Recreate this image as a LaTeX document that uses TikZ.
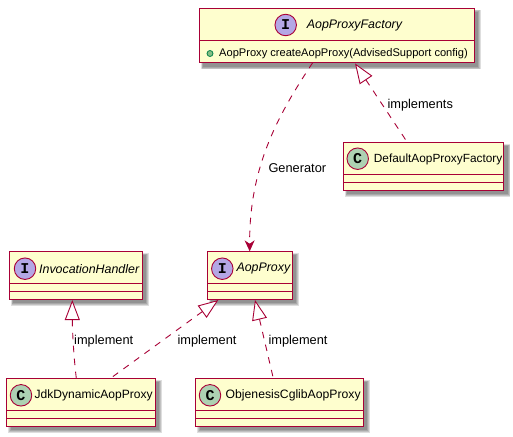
\documentclass[tikz,border=0pt]{standalone}
\usepackage{fontspec}
\setmainfont{Liberation Sans}
\newfontfamily\badgefont{Liberation Mono}
\usetikzlibrary{arrows.meta,calc}
\definecolor{umlred}{HTML}{A80036}
\definecolor{umlfill}{HTML}{FEFECE}
\definecolor{ifacebadge}{HTML}{B4A7E5}
\definecolor{classbadge}{HTML}{ADD1B2}
\definecolor{pubfill}{HTML}{84BE84}
\definecolor{publine}{HTML}{038048}
\tikzset{
  umlbox/.style={draw=umlred,fill=umlfill,line width=1.5pt,rectangle,inner sep=0pt,outer sep=0pt},
  sepline/.style={draw=umlred,line width=1.5pt},
  badge/.style={circle,draw=umlred,line width=.9pt,minimum size=21.5pt,inner sep=0pt,outer sep=0pt,font=\badgefont\bfseries\fontsize{15}{15}\selectfont,text=black},
  ifacemark/.style={badge,fill=ifacebadge},
  classmark/.style={badge,fill=classbadge},
  titletext/.style={anchor=west,inner sep=0pt,font=\fontsize{11.85}{14}\selectfont},
  ititle/.style={anchor=west,inner sep=0pt,font=\fontsize{12.4}{15}\selectfont\itshape},
  edgelabel/.style={anchor=west,inner sep=0pt,font=\fontsize{12.8}{15}\selectfont},
  deplink/.style={draw=umlred,line width=.9pt,dash pattern=on 6.5pt off 6.5pt},
  realize/.style={deplink,{Triangle[open,length=20pt,width=15pt,fill=white]}-,dash pattern=on 6.5pt off 6.5pt},
  depend/.style={deplink,-{Stealth[inset=3.5pt,length=11pt,width=10pt,fill=umlred]}},
}
\newcommand{\umlframe}[5]{%
  \foreach \g in {3,2,1,0}{
    \fill[black,opacity=.13] ({#2+4-\g*.9},{#3+4-\g*.9}) rectangle ({#4+4+\g*.9},{#5+4+\g*.9});
  }
  \node[umlbox,minimum width={(#4-#2)*1pt},minimum height={(#5-#3)*1pt}] (#1) at ({(#2+#4)/2},{(#3+#5)/2}) {};
}
\newcommand{\umlsep}[2]{\draw[sepline] (#1.west |- 0,#2) -- (#1.east |- 0,#2);}
\begin{document}
\begin{tikzpicture}[x=1pt,y=-1pt]
\useasboundingbox (0,0) rectangle (513,436);
\fill[white] (0,0) rectangle (513,436);

% Boxes
\umlframe{factory}{199.3}{8.3}{474.3}{62.7}
\umlsep{factory}{40.7}
\node[ifacemark] (factorybadge) at (285.7,25) {I};
\node[ititle] (factorytitle) at (306.7,25.5) {AopProxyFactory};
\node[circle,draw=publine,fill=pubfill,line width=.8pt,minimum size=6pt,inner sep=0pt] (factorydot) at (210,53.5) {};
\node[anchor=west,inner sep=0pt,font=\fontsize{11.1}{13}\selectfont] (factorymethod) at (219,53.5) {AopProxy createAopProxy(AdvisedSupport config)};

\umlframe{default}{343.3}{142.3}{503.7}{190.3}
\umlsep{default}{174.3}
\umlsep{default}{182.3}
\node[classmark] (defaultbadge) at (357.7,158.7) {C};
\node[titletext] (defaulttitle) at (373.7,159) {DefaultAopProxyFactory};

\umlframe{handler}{9.3}{251.3}{142.3}{299.3}
\umlsep{handler}{283.3}
\umlsep{handler}{291.3}
\node[ifacemark] (handlerbadge) at (25,268.7) {I};
\node[ititle] (handlertitle) at (39,269) {InvocationHandler};

\umlframe{proxy}{207.3}{251.3}{292.3}{299.3}
\umlsep{proxy}{283.3}
\umlsep{proxy}{291.3}
\node[ifacemark] (proxybadge) at (222.3,268.7) {I};
\node[ititle] (proxytitle) at (236.3,269) {AopProxy};

\umlframe{jdk}{6.7}{378.3}{155.3}{426.3}
\umlsep{jdk}{410.3}
\umlsep{jdk}{418.3}
\node[classmark] (jdkbadge) at (21,395.3) {C};
\node[titletext,font=\fontsize{12.05}{14}\selectfont] (jdktitle) at (34.5,395.7) {JdkDynamicAopProxy};

\umlframe{cglib}{195.7}{378.3}{363.3}{426.3}
\umlsep{cglib}{410.3}
\umlsep{cglib}{418.3}
\node[classmark] (cglibbadge) at (210,395.3) {C};
\node[titletext,font=\fontsize{12.2}{14}\selectfont] (cglibtitle) at (225.5,395.7) {ObjenesisCglibAopProxy};

% Connector ends on the box borders
\coordinate (fgen) at (312.7,62.7);
\coordinate (pgen) at (249.7,251.3);
\coordinate (fimp) at (355,63.4);
\coordinate (dimp) at (407.3,142.3);
\coordinate (himp) at (72.3,300);
\coordinate (jimpa) at (76.3,378.3);
\coordinate (pimpa) at (218.3,300);
\coordinate (jimpb) at (110.5,378.3);
\coordinate (pimpb) at (255,300);
\coordinate (cimp) at (273.3,378.3);

% Connectors
\draw[depend] (fgen) .. controls (280,112) and (249,165) .. (pgen);
\draw[realize] (fimp) -- (dimp);
\draw[realize] (himp) .. controls (72.3,325) and (73,350) .. (jimpa);
\draw[realize] (pimpa) -- (jimpb);
\draw[realize] (pimpb) -- (cimp);

% Labels
\node[edgelabel] (lgen) at (268.3,168) {Generator};
\node[edgelabel] (limp) at (387.3,105) {implements};
\node[edgelabel] (la) at (74,341) {implement};
\node[edgelabel] (lb) at (177.3,341) {implement};
\node[edgelabel] (lc) at (268.3,341) {implement};
\end{tikzpicture}
\end{document}
